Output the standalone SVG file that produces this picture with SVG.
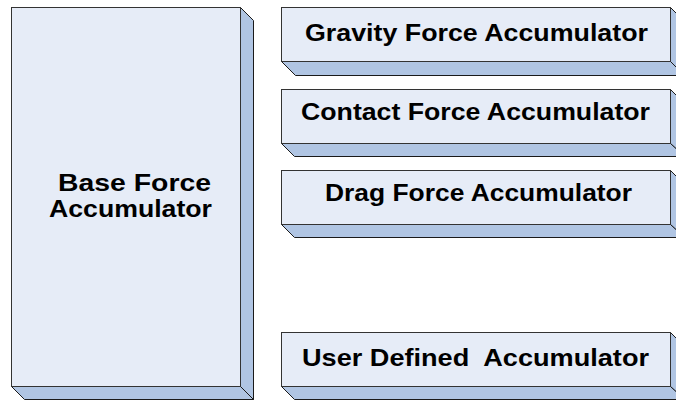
<svg xmlns="http://www.w3.org/2000/svg" width="676" height="401" viewBox="0 0 676 401">
  <style>
    .front { fill: #E6ECF7; stroke: #333333; stroke-width: 1; }
    .side { fill: #B0C5E3; stroke: #1a1a1a; stroke-width: 1; stroke-linejoin: miter; }
    .label { font-family: "Liberation Sans", Arial, sans-serif; font-weight: bold; font-size: 24px; fill: #000000; }
    .big { font-size: 23px; }
  </style>
  <rect width="676" height="401" fill="#ffffff"/>

  <!-- Base accumulator: tall block on the left -->
  <g id="base-force-accumulator">
    <polygon class="side" points="240.5,7.5 253.5,20.5 253.5,399.5 240.5,386.5"/>
    <polygon class="side" points="11.5,386.5 24.5,399.5 253.5,399.5 240.5,386.5"/>
    <rect class="front" x="11.5" y="7.5" width="229" height="379"/>
    <text class="label big" x="58" y="191" textLength="153" lengthAdjust="spacingAndGlyphs">Base Force</text>
    <text class="label big" x="49" y="217" textLength="163" lengthAdjust="spacingAndGlyphs">Accumulator</text>
  </g>

  <!-- Specialised accumulators stacked on the right -->
  <g id="gravity-force-accumulator">
    <polygon class="side" points="670.5,7.5 684.5,21.5 684.5,75.5 670.5,61.5"/>
    <polygon class="side" points="281.5,61.5 295.5,75.5 684.5,75.5 670.5,61.5"/>
    <rect class="front" x="281.5" y="7.5" width="389" height="54"/>
    <text class="label" x="305" y="41" textLength="343" lengthAdjust="spacingAndGlyphs">Gravity Force Accumulator</text>
  </g>

  <g id="contact-force-accumulator">
    <polygon class="side" points="670.5,89.5 684.5,103.5 684.5,156.5 670.5,143.5"/>
    <polygon class="side" points="281.5,143.5 294.5,156.5 684.5,156.5 670.5,143.5"/>
    <rect class="front" x="281.5" y="89.5" width="389" height="54"/>
    <text class="label" x="301" y="120" textLength="349" lengthAdjust="spacingAndGlyphs">Contact Force Accumulator</text>
  </g>

  <g id="drag-force-accumulator">
    <polygon class="side" points="670.5,170.5 684.5,184.5 684.5,237.5 670.5,224.5"/>
    <polygon class="side" points="281.5,224.5 294.5,237.5 684.5,237.5 670.5,224.5"/>
    <rect class="front" x="281.5" y="170.5" width="389" height="54"/>
    <text class="label" x="325" y="201" textLength="307" lengthAdjust="spacingAndGlyphs">Drag Force Accumulator</text>
  </g>

  <g id="user-defined-accumulator">
    <polygon class="side" points="670.5,332.5 684.5,346.5 684.5,399.5 670.5,386.5"/>
    <polygon class="side" points="281.5,386.5 294.5,399.5 684.5,399.5 670.5,386.5"/>
    <rect class="front" x="281.5" y="332.5" width="389" height="54"/>
    <text class="label" x="302" y="366" textLength="347" lengthAdjust="spacingAndGlyphs" xml:space="preserve">User Defined  Accumulator</text>
  </g>

  <g id="connectors"></g>
</svg>
